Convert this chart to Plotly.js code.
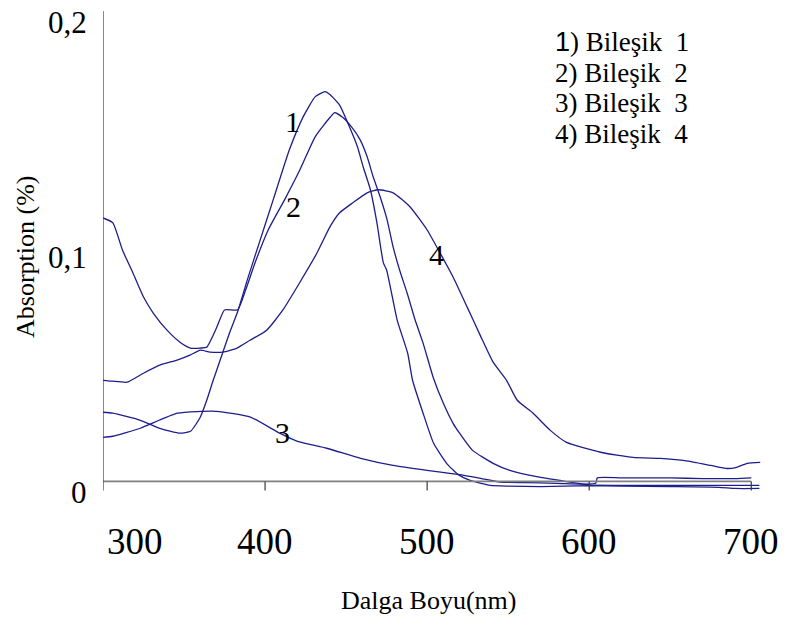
<!DOCTYPE html>
<html>
<head>
<meta charset="utf-8">
<script src="https://cdn.plot.ly/plotly-3.0.1.min.js"></script>
<style>html,body{margin:0;padding:0;background:#fff;}#chart{width:787px;height:619px;}</style>
</head>
<body>
<div id="chart"></div>
<script>
// ---- data ----
const wl1 = [300,306,323,335,347.5,354,360,364,368,374,378,383,389,397,405,415,423.5,431,437,440,446,451,457,460.5,465,469,473,475,481.5,488,491,497.5,504,512,519,526.5,539,550,570,600,620,650,680,690,705];
const ab1 = [0.0294,0.029,0.026,0.0226,0.0205,0.0213,0.0273,0.0345,0.043,0.055,0.063,0.072,0.0856,0.1027,0.1197,0.141,0.155,0.1636,0.1657,0.1645,0.16,0.1525,0.1423,0.1338,0.124,0.11,0.0929,0.0899,0.0686,0.0545,0.043,0.029,0.0162,0.0077,0.003,0.0004,-0.0017,-0.002,-0.0022,-0.0018,-0.002,-0.0022,-0.0025,-0.003,-0.003];

const wl2 = [300,306,312,318.5,325,331,339.5,347.5,354,360,364,370,375,383,388,394,402,412,421.5,431,440,443,448,453.7,458.6,463,466.7,471,475.3,479,483,487.7,492.6,497.5,503.7,510,516,520,528,540.7,551,570,582,590,600,620,650,680,705];
const ab2 = [0.112,0.11,0.0984,0.0886,0.0784,0.0716,0.0643,0.0592,0.0567,0.0567,0.0571,0.0652,0.0729,0.0729,0.0814,0.0933,0.107,0.1197,0.1325,0.1466,0.1547,0.1568,0.1547,0.1504,0.1453,0.138,0.1295,0.121,0.1112,0.0997,0.0899,0.08,0.0686,0.0588,0.0443,0.0332,0.0247,0.0205,0.0132,0.0077,0.0047,0.0017,0.0004,-0.0005,-0.0015,-0.0017,-0.0017,-0.0017,-0.0017];

const wl3 = [300,306,323,346,370,391,409,420,438,459,479,500,519,533,545,560,580,604,605,620,650,670,690,700];
const ab3 = [0.0187,0.0192,0.0226,0.029,0.0298,0.0273,0.0205,0.017,0.0141,0.0098,0.0068,0.0047,0.003,0.0013,-0.0003,-0.0005,-0.0008,-0.0008,0.0015,0.0015,0.0015,0.0012,0.0012,0.0015];

const wl4 = [300,306,315,325,335,345.7,353.7,360,366,374,382.7,390.7,401,411,421.6,432,440,446,454,463,470,479,489.5,500,508,516,524.7,532.7,540.7,549,555.6,565.4,576,586,607,627,644,658,675,685,691,697.5,705.5];
const ab4 = [0.043,0.0426,0.0422,0.046,0.0494,0.0516,0.0537,0.0558,0.055,0.055,0.0567,0.06,0.0643,0.0729,0.0848,0.0971,0.1082,0.1142,0.1184,0.1227,0.124,0.1227,0.1167,0.1069,0.0971,0.0869,0.0741,0.0622,0.0507,0.043,0.0345,0.029,0.0217,0.0166,0.0124,0.0102,0.0098,0.0089,0.0068,0.0055,0.006,0.0077,0.0081];

const seriesNumbers = ["1","2","3","4"];
const seriesNames = ["Bileşik  1","Bileşik  2","Bileşik  3","Bileşik  4"];
const curveLabels = ["1","2","3","4"];
const curveLabelX = [416.7, 417.3, 411, 506];
const curveLabelY = [0.153, 0.117, 0.0209, 0.0963];

const xTickVals = [300,400,500,600,700];
const xTickText = ["300","400","500","600","700"];
const yTickVals = [0,0.1,0.2];
const yTickText = ["0","0,1","0,2"];

const xTitle = "Dalga Boyu(nm)";
const yTitle = "Absorption (%)";

// ---- layout geometry ----
const W = 787, H = 619;
const M = {l:103, r:26, t:11, b:127};
const pw = W - M.l - M.r, ph = H - M.t - M.b;
const px2paperX = px => (px - M.l) / pw;
const py2paperY = py => 1 - (py - M.t) / ph;

const lineColor = "#1d1d8c";
const serif = "Liberation Serif";

const xs = [wl1, wl2, wl3, wl4], ys = [ab1, ab2, ab3, ab4];
const traces = xs.map((x, i) => ({
  x: x, y: ys[i], type: "scatter", mode: "lines", name: seriesNumbers[i] + ") " + seriesNames[i],
  line: {color: lineColor, width: 1.3, shape: "spline", smoothing: 0.5}, hoverinfo: "skip"
}));

const annotations = [];
// curve labels
curveLabels.forEach((t, i) => annotations.push({
  x: curveLabelX[i], y: curveLabelY[i], xref: "x", yref: "y", text: t, showarrow: false,
  xanchor: "center", yanchor: "middle",
  font: {family: serif, size: 30, color: "#000"}
}));
// legend-like text list (the first number is in a sans face in the reference)
seriesNames.forEach((t, i) => annotations.push({
  x: px2paperX(553), y: py2paperY(42 + i * 30.5), xref: "paper", yref: "paper",
  xanchor: "left", yanchor: "middle", showarrow: false,
  text: (i === 0 ? "<span style='font-family:Liberation Sans'>" + seriesNumbers[i] + "</span>" : seriesNumbers[i]) + ") " + t,
  font: {family: serif, size: 27, color: "#000"}
}));
// x tick labels (first label sits right of the axis corner, as in the reference)
const xLabelShift = [32, 0, 0, 0, 0];
xTickVals.forEach((v, i) => annotations.push({
  x: v, y: 0, xref: "x", yref: "y", xanchor: "center", yanchor: "middle", showarrow: false, yshift: -60, xshift: xLabelShift[i],
  text: xTickText[i], font: {family: serif, size: 37, color: "#000"}
}));
// y tick labels
yTickVals.forEach((v, i) => annotations.push({
  x: 0, y: v, xref: "paper", yref: "y", xanchor: "right", yanchor: "middle", showarrow: false,
  xshift: -14, yshift: -11,
  text: yTickText[i], font: {family: serif, size: 31, color: "#000"}
}));
// axis titles
annotations.push({
  x: px2paperX(428), y: py2paperY(600), xref: "paper", yref: "paper", showarrow: false,
  xanchor: "center", yanchor: "middle",
  text: xTitle, font: {family: serif, size: 26, color: "#000"}
});
annotations.push({
  x: px2paperX(25), y: py2paperY(257), xref: "paper", yref: "paper", showarrow: false, textangle: -90,
  xanchor: "center", yanchor: "middle",
  text: yTitle, font: {family: serif, size: 26, color: "#000"}
});

// axis lines and ticks
const shapes = [];
shapes.push({type:"line", xref:"x", yref:"y", x0:300, x1:700, y0:0, y1:0, line:{color:"#808080", width:1.6}});
shapes.push({type:"line", xref:"x", yref:"y", x0:300, x1:300, y0:0, y1:0.2, line:{color:"#3a3a3a", width:1.2}});
xTickVals.forEach(v => shapes.push({type:"line", xref:"x", yref:"y", ysizemode:"pixel", yanchor:0,
  x0:v, x1:v, y0:0, y1:-9, line:{color:"#3a3a3a", width:1.2}}));
yTickVals.forEach(v => shapes.push({type:"line", xref:"x", yref:"y", xsizemode:"pixel", xanchor:300,
  x0:-9, x1:0, y0:v, y1:v, line:{color:"#3a3a3a", width:1.2}}));

const layout = {
  width: W, height: H, margin: M, showlegend: false,
  paper_bgcolor: "#fff", plot_bgcolor: "#fff",
  xaxis: {range:[300,706], showgrid:false, zeroline:false, showline:false, showticklabels:false, ticks:""},
  yaxis: {range:[-0.0045,0.2], showgrid:false, zeroline:false, showline:false, showticklabels:false, ticks:""},
  annotations: annotations, shapes: shapes
};

Plotly.newPlot("chart", traces, layout, {staticPlot: true});
</script>
</body>
</html>
